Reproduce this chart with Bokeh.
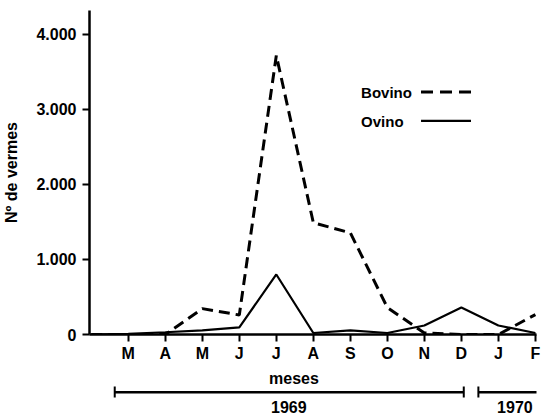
from bokeh.plotting import figure
from bokeh.models import FixedTicker, Range1d, ColumnDataSource
from bokeh.layouts import column
from bokeh.core.properties import value
from bokeh.embed import file_html
from bokeh.resources import INLINE

# ---- data ----
month_pos = list(range(13))            # 0 = Feb 1969 ... 12 = Feb 1970
month_ticks = list(range(1, 13))
month_labels = ["M", "A", "M", "J", "J", "A", "S", "O", "N", "D", "J", "F"]
bovino = [0, 0, 0, 345, 260, 3720, 1490, 1355, 360, 20, 0, 0, 265]
ovino = [0, 10, 30, 55, 95, 800, 20, 55, 20, 120, 360, 120, 20]
y_ticks = [0, 1000, 2000, 3000, 4000]
y_labels = ["0", "1.000", "2.000", "3.000", "4.000"]
years = ["1969", "1970"]
year_start = [0.643, 10.60]
year_end = [10.20, 12.40]
year_center = [5.41, 11.60]

FONT = "Liberation Sans"
W = 542
X0, X1 = -0.048, 12.03
FRAME_L = 87
FRAME_W = 449
PPM = FRAME_W / (X1 - X0)
Y1 = 4319

src = ColumnDataSource(dict(x=month_pos, bov=bovino, ovi=ovino))

p = figure(width=W, height=364, output_backend="svg", toolbar_location=None,
           x_range=Range1d(X0, X1), y_range=Range1d(0, Y1),
           min_border_left=FRAME_L, min_border_right=W - FRAME_L - FRAME_W,
           min_border_top=10, min_border_bottom=29)
p.outline_line_color = None
p.grid.visible = False
p.background_fill_color = "white"

p.line("x", "bov", source=src, line_color="black", line_width=3, line_dash="11 6")
p.line("x", "ovi", source=src, line_color="black", line_width=2.2)

# legend (text then key, as in the original)
p.text(x=[7.29], y=[3229], text=["Bovino"], text_font=value(FONT), text_font_style="bold",
       text_font_size="15px", text_baseline="middle", text_align="left", text_color="black")
p.text(x=[7.29], y=[2844], text=["Ovino"], text_font=value(FONT), text_font_style="bold",
       text_font_size="15px", text_baseline="middle", text_align="left", text_color="black")
p.line([8.91, 10.26], [3233, 3233], line_color="black", line_width=3, line_dash="12 7")
p.line([8.91, 10.26], [2848, 2848], line_color="black", line_width=2.2)

for ax in (p.xaxis[0], p.yaxis[0]):
    ax.axis_line_width = 2.5
    ax.axis_line_color = "black"
    ax.major_tick_line_width = 2
    ax.major_tick_line_color = "black"
    ax.major_tick_out = 7
    ax.major_tick_in = 0
    ax.minor_tick_out = 0
    ax.minor_tick_in = 0
    ax.major_label_text_font = FONT
    ax.major_label_text_font_style = "bold"
    ax.major_label_text_font_size = "16px"
    ax.major_label_text_color = "black"

p.xaxis.ticker = FixedTicker(ticks=month_ticks)
p.xaxis.major_label_overrides = {t: l for t, l in zip(month_ticks, month_labels)}
p.xaxis.major_label_standoff = 3

p.yaxis.ticker = FixedTicker(ticks=y_ticks)
p.yaxis.major_label_overrides = {t: l for t, l in zip(y_ticks, y_labels)}
p.yaxis.major_label_standoff = 6
p.yaxis.axis_label = "Nº de vermes"
p.yaxis.axis_label_text_font = FONT
p.yaxis.axis_label_text_font_style = "bold"
p.yaxis.axis_label_text_font_size = "16px"
p.yaxis.axis_label_text_color = "black"
p.yaxis.axis_label_standoff = 13

# ---- lower strip: "meses" and year brackets ----
SH = 52
q = figure(width=W, height=SH, output_backend="svg", toolbar_location=None,
           x_range=Range1d(X0, X0 + (W - FRAME_L) / PPM), y_range=Range1d(0, SH),
           min_border_left=FRAME_L, min_border_right=0, min_border_top=0, min_border_bottom=0)
q.axis.visible = False
q.grid.visible = False
q.outline_line_color = None

q.text(x=[5.55], y=[38], text=["meses"], text_font=value(FONT), text_font_style="bold",
       text_font_size="16px", text_baseline="middle", text_align="center", text_color="black")
q.segment(x0=year_start, y0=[24.3] * 2, x1=year_end, y1=[24.3] * 2,
          line_color="black", line_width=2.5)
q.segment(x0=year_start, y0=[19] * 2, x1=year_start, y1=[30] * 2,
          line_color="black", line_width=2)
q.segment(x0=[year_end[0]], y0=[19], x1=[year_end[0]], y1=[30],
          line_color="black", line_width=2)
q.text(x=year_center, y=[10] * 2, text=years, text_font=value(FONT), text_font_style="bold",
       text_font_size="16px", text_baseline="middle", text_align="center", text_color="black")

layout = column(p, q, spacing=0)
open("out.html", "w").write(file_html(layout, INLINE))
